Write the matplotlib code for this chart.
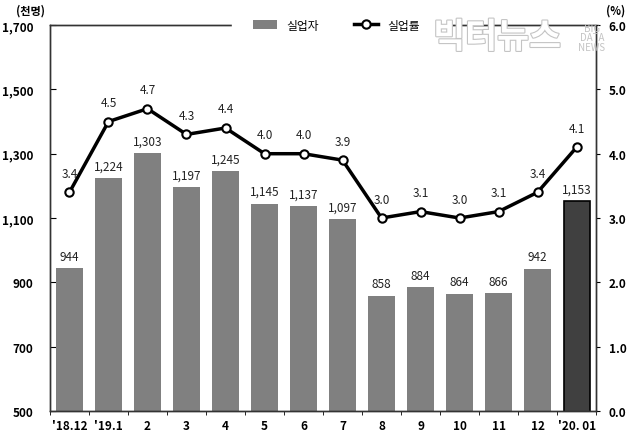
import matplotlib.pyplot as plt
import matplotlib.patheffects as pe
import numpy as np

# =========================
# 기본 설정
# =========================
plt.rcParams['font.family'] = ['Noto Sans CJK KR', 'DejaVu Sans']
plt.rcParams['axes.unicode_minus'] = False

# =========================
# 데이터
# =========================
months = ["'18.12", "'19.1", "2", "3", "4", "5", "6", "7", "8", "9", "10", "11", "12", "'20. 01"]
unemployed = [944, 1224, 1303, 1197, 1245, 1145, 1137, 1097, 858, 884, 864, 866, 942, 1153]
rate = [3.4, 4.5, 4.7, 4.3, 4.4, 4.0, 4.0, 3.9, 3.0, 3.1, 3.0, 3.1, 3.4, 4.1]

x = np.arange(len(months))
bar_colors = ["#808080"] * (len(months) - 1) + ["#404040"]
edge_colors = ["none"] * (len(months) - 1) + ["black"]

fig = plt.figure(figsize=(6.35, 4.35), dpi=100)
ax = fig.add_axes([0.0787, 0.053, 0.86, 0.887])
ax2 = ax.twinx()

# 막대 (실업자)
bars = ax.bar(x, unemployed, width=0.67, color=bar_colors, edgecolor=edge_colors,
              linewidth=1.2, label="실업자", zorder=2)
for xi, v in zip(x, unemployed):
    ax.annotate(f"{v:,}", (xi, v), xytext=(0, 4), textcoords="offset points",
                ha="center", va="bottom", fontsize=8.5, color="#222222")

ax.set_xlim(-0.5, len(months) - 0.5)
ax.set_ylim(500, 1700)
ax.set_yticks([500, 700, 900, 1100, 1300, 1500, 1700])
ax.set_yticklabels([f"{v:,}" for v in [500, 700, 900, 1100, 1300, 1500, 1700]],
                   fontsize=8.5, fontweight="bold")
ax.tick_params(axis="y", direction="in", length=4, pad=12)
ax.set_xticks(x)
ax.set_xticklabels(months, fontsize=8.5, fontweight="bold")
ax.set_xticks(np.arange(-0.5, len(months), 1), minor=True)
ax.tick_params(axis="x", which="major", length=0, pad=6)
ax.tick_params(axis="x", which="minor", length=3, direction="out")

# 선 (실업률)
line, = ax2.plot(x, rate, color="black", linewidth=2.5, marker="o", markersize=6,
                 markerfacecolor="white", markeredgecolor="black", markeredgewidth=1.5,
                 label="실업률", zorder=3)
for xi, v in zip(x, rate):
    ax2.annotate(f"{v:.1f}", (xi, v), xytext=(0, 9), textcoords="offset points",
                 ha="center", va="bottom", fontsize=8.5, color="#222222")
ax2.set_ylim(0, 6)
ax2.set_yticks(np.arange(0, 6.1, 1.0))
ax2.set_yticklabels([f"{v:.1f}" for v in np.arange(0, 6.1, 1.0)],
                    fontsize=8.5, fontweight="bold")
ax2.tick_params(axis="y", direction="out", length=3, pad=6)

for a in (ax, ax2):
    for s in a.spines.values():
        s.set_color("#333333")
        s.set_linewidth(1)

# 범례 (위쪽 테두리 가림)
leg = ax2.legend([bars, line], ["실업자", "실업률"], loc="center", bbox_to_anchor=(0.525, 1.0),
                 ncol=2, frameon=True, fontsize=8.5, handlelength=2.0, columnspacing=3.0,
                 borderpad=0.3, borderaxespad=0, framealpha=1, fancybox=False)
leg.get_frame().set_edgecolor("white")
leg.get_frame().set_facecolor("white")
leg.get_frame().set_boxstyle("square", pad=1.5)

# 단위
fig.text(0.025, 0.975, "(천명)", fontsize=8, fontweight="bold", ha="left", va="center")
fig.text(0.985, 0.975, "(%)", fontsize=8, fontweight="bold", ha="right", va="center")

# 워터마크
wm1 = fig.text(0.783, 0.912, "빅터뉴스", fontsize=25, fontweight="bold", color="white",
               ha="center", va="center", zorder=10)
wm1.set_path_effects([pe.Stroke(linewidth=1.6, foreground="#c4c4c4"), pe.Normal()])
fig.text(0.932, 0.912, "BIG\nDATA\nNEWS", fontsize=7, color="#c4c4c4",
         ha="center", va="center", linespacing=0.95, zorder=10)

fig.savefig("out.png", dpi=100)
